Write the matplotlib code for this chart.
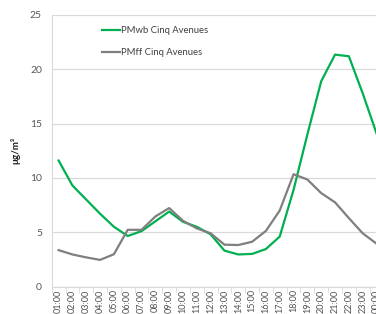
import matplotlib
matplotlib.use("Agg")
import matplotlib.pyplot as plt
import numpy as np

plt.rcParams["font.family"] = ["Lato", "DejaVu Sans"]

hours = ["01:00","02:00","03:00","04:00","05:00","06:00","07:00","08:00","09:00","10:00",
         "11:00","12:00","13:00","14:00","15:00","16:00","17:00","18:00","19:00","20:00",
         "21:00","22:00","23:00","00:00"]
pmwb = [11.6, 9.3, 8.0, 6.7, 5.5, 4.65, 5.1, 6.0, 6.9, 5.95,
        5.5, 4.8, 3.3, 2.95, 3.0, 3.45, 4.6, 8.9, 14.0, 18.9,
        21.35, 21.2, 17.8, 14.1]
pmff = [3.35, 2.95, 2.68, 2.45, 2.97, 5.22, 5.22, 6.45, 7.22, 6.05,
        5.35, 4.9, 3.85, 3.82, 4.12, 5.12, 7.0, 10.34, 9.85, 8.6,
        7.75, 6.3, 4.9, 3.95]
series_names = ["PMwb Cinq Avenues", "PMff Cinq Avenues"]

fig = plt.figure(figsize=(3.76, 3.14), dpi=100)
ax = fig.add_axes([51.7/376, 27.5/314, 331.7/376, 271.5/314])

x = np.arange(len(hours))
ax.plot(x, pmwb, color="#00b050", lw=1.6, label=series_names[0], zorder=3)
ax.plot(x, pmff, color="#7f7f7f", lw=1.6, label=series_names[1], zorder=3)

ax.set_xlim(-0.5, len(hours) - 0.5)
ax.set_ylim(0, 25)
ax.set_yticks([0, 5, 10, 15, 20, 25])
ax.yaxis.grid(True, color="#d9d9d9", lw=0.9)
ax.set_axisbelow(True)
for s in ["top", "right"]:
    ax.spines[s].set_visible(False)
ax.spines["left"].set_color("#d9d9d9")
ax.spines["bottom"].set_color("#d9d9d9")
ax.tick_params(axis="y", length=0, labelsize=7.5, labelcolor="#595959", pad=7)
ax.set_xticks(x)
ax.set_xticklabels(hours, rotation=90, fontsize=6.5, color="#505050")
ax.tick_params(axis="x", which="major", length=0, pad=2)
ax.set_xticks(np.arange(-0.5, len(hours)), minor=True)
ax.tick_params(axis="x", which="minor", length=4, color="#d9d9d9", direction="out")

ax.set_ylabel("μg/m³", fontsize=7, fontweight="bold", color="#202020")
ax.yaxis.set_label_coords(-0.093, 0.5)

leg = ax.legend(loc="upper left", bbox_to_anchor=(0.125, 0.99), frameon=False,
                fontsize=6.8, handlelength=1.9, handletextpad=0.1, labelspacing=1.35)
for t in leg.get_texts():
    t.set_color("#404040")

fig.savefig("out.png", dpi=100)
